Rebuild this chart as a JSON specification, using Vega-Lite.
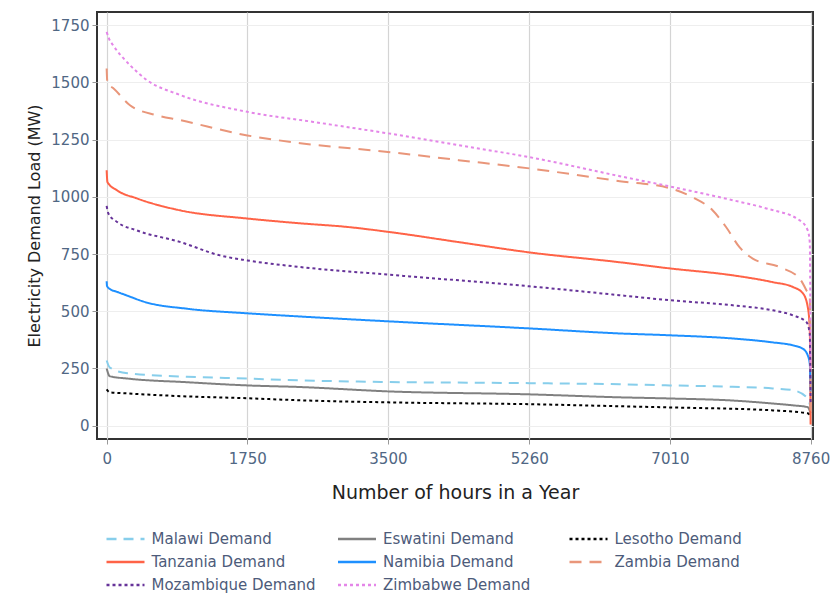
{
  "$schema": "https://vega.github.io/schema/vega-lite/v6.json",
  "autosize": {"type": "none"},
  "padding": {"left": 97, "top": 12, "right": 20, "bottom": 156},
  "width": 716,
  "height": 427,
  "background": "white",
  "config": {
    "font": "DejaVu Sans",
    "view": {"stroke": "#333333", "strokeWidth": 2},
    "axis": {"labelFont": "DejaVu Sans", "titleFont": "DejaVu Sans"},
    "legend": {"labelFont": "DejaVu Sans"}
  },
  "data": {"values": [
    {"c":"Malawi Demand","h":0,"v":285},{"c":"Malawi Demand","h":40,"v":254},{"c":"Malawi Demand","h":260,"v":229},{"c":"Malawi Demand","h":1000,"v":214},{"c":"Malawi Demand","h":1750,"v":206},{"c":"Malawi Demand","h":2410,"v":198},{"c":"Malawi Demand","h":3500,"v":191},{"c":"Malawi Demand","h":5260,"v":186},{"c":"Malawi Demand","h":6385,"v":181},{"c":"Malawi Demand","h":7010,"v":176},{"c":"Malawi Demand","h":7790,"v":170},{"c":"Malawi Demand","h":8290,"v":163},{"c":"Malawi Demand","h":8540,"v":155},{"c":"Malawi Demand","h":8725,"v":119},{"c":"Malawi Demand","h":8760,"v":80},
    {"c":"Eswatini Demand","h":0,"v":250},{"c":"Eswatini Demand","h":40,"v":216},{"c":"Eswatini Demand","h":260,"v":206},{"c":"Eswatini Demand","h":1000,"v":190},{"c":"Eswatini Demand","h":1750,"v":176},{"c":"Eswatini Demand","h":2410,"v":169},{"c":"Eswatini Demand","h":3500,"v":150},{"c":"Eswatini Demand","h":5260,"v":137},{"c":"Eswatini Demand","h":6385,"v":124},{"c":"Eswatini Demand","h":7010,"v":119},{"c":"Eswatini Demand","h":7790,"v":110},{"c":"Eswatini Demand","h":8290,"v":97},{"c":"Eswatini Demand","h":8540,"v":89},{"c":"Eswatini Demand","h":8725,"v":81},{"c":"Eswatini Demand","h":8760,"v":55},
    {"c":"Lesotho Demand","h":0,"v":159},{"c":"Lesotho Demand","h":40,"v":146},{"c":"Lesotho Demand","h":260,"v":141},{"c":"Lesotho Demand","h":1000,"v":128},{"c":"Lesotho Demand","h":1750,"v":120},{"c":"Lesotho Demand","h":2410,"v":111},{"c":"Lesotho Demand","h":3500,"v":102},{"c":"Lesotho Demand","h":5260,"v":94},{"c":"Lesotho Demand","h":6385,"v":85},{"c":"Lesotho Demand","h":7010,"v":80},{"c":"Lesotho Demand","h":8290,"v":67},{"c":"Lesotho Demand","h":8725,"v":54},{"c":"Lesotho Demand","h":8760,"v":40},
    {"c":"Tanzania Demand","h":0,"v":1116},{"c":"Tanzania Demand","h":10,"v":1064},{"c":"Tanzania Demand","h":130,"v":1028},{"c":"Tanzania Demand","h":375,"v":993},{"c":"Tanzania Demand","h":910,"v":941},{"c":"Tanzania Demand","h":1750,"v":905},{"c":"Tanzania Demand","h":2410,"v":884},{"c":"Tanzania Demand","h":3000,"v":868},{"c":"Tanzania Demand","h":3500,"v":847},{"c":"Tanzania Demand","h":4380,"v":802},{"c":"Tanzania Demand","h":5260,"v":757},{"c":"Tanzania Demand","h":6385,"v":714},{"c":"Tanzania Demand","h":7010,"v":687},{"c":"Tanzania Demand","h":7790,"v":657},{"c":"Tanzania Demand","h":8290,"v":627},{"c":"Tanzania Demand","h":8540,"v":606},{"c":"Tanzania Demand","h":8665,"v":578},{"c":"Tanzania Demand","h":8725,"v":518},{"c":"Tanzania Demand","h":8750,"v":420},{"c":"Tanzania Demand","h":8760,"v":5},
    {"c":"Namibia Demand","h":0,"v":631},{"c":"Namibia Demand","h":5,"v":610},{"c":"Namibia Demand","h":40,"v":597},{"c":"Namibia Demand","h":120,"v":586},{"c":"Namibia Demand","h":250,"v":569},{"c":"Namibia Demand","h":480,"v":540},{"c":"Namibia Demand","h":1000,"v":511},{"c":"Namibia Demand","h":1750,"v":491},{"c":"Namibia Demand","h":2410,"v":477},{"c":"Namibia Demand","h":3500,"v":456},{"c":"Namibia Demand","h":5260,"v":425},{"c":"Namibia Demand","h":6385,"v":403},{"c":"Namibia Demand","h":7010,"v":395},{"c":"Namibia Demand","h":7790,"v":381},{"c":"Namibia Demand","h":8290,"v":364},{"c":"Namibia Demand","h":8540,"v":351},{"c":"Namibia Demand","h":8665,"v":336},{"c":"Namibia Demand","h":8725,"v":307},{"c":"Namibia Demand","h":8750,"v":270},{"c":"Namibia Demand","h":8760,"v":150},
    {"c":"Zambia Demand","h":0,"v":1560},{"c":"Zambia Demand","h":10,"v":1495},{"c":"Zambia Demand","h":80,"v":1475},{"c":"Zambia Demand","h":290,"v":1400},{"c":"Zambia Demand","h":625,"v":1356},{"c":"Zambia Demand","h":910,"v":1335},{"c":"Zambia Demand","h":1750,"v":1268},{"c":"Zambia Demand","h":2410,"v":1234},{"c":"Zambia Demand","h":3500,"v":1196},{"c":"Zambia Demand","h":4380,"v":1160},{"c":"Zambia Demand","h":5260,"v":1124},{"c":"Zambia Demand","h":6385,"v":1068},{"c":"Zambia Demand","h":7010,"v":1037},{"c":"Zambia Demand","h":7290,"v":998},{"c":"Zambia Demand","h":7540,"v":941},{"c":"Zambia Demand","h":7710,"v":867},{"c":"Zambia Demand","h":7875,"v":780},{"c":"Zambia Demand","h":8040,"v":730},{"c":"Zambia Demand","h":8375,"v":693},{"c":"Zambia Demand","h":8625,"v":642},{"c":"Zambia Demand","h":8710,"v":590},{"c":"Zambia Demand","h":8750,"v":560},{"c":"Zambia Demand","h":8760,"v":50},
    {"c":"Mozambique Demand","h":0,"v":960},{"c":"Mozambique Demand","h":20,"v":928},{"c":"Mozambique Demand","h":130,"v":890},{"c":"Mozambique Demand","h":375,"v":853},{"c":"Mozambique Demand","h":910,"v":803},{"c":"Mozambique Demand","h":1410,"v":744},{"c":"Mozambique Demand","h":1750,"v":722},{"c":"Mozambique Demand","h":2410,"v":693},{"c":"Mozambique Demand","h":3500,"v":660},{"c":"Mozambique Demand","h":5260,"v":609},{"c":"Mozambique Demand","h":6385,"v":570},{"c":"Mozambique Demand","h":7010,"v":548},{"c":"Mozambique Demand","h":7790,"v":526},{"c":"Mozambique Demand","h":8290,"v":504},{"c":"Mozambique Demand","h":8540,"v":482},{"c":"Mozambique Demand","h":8710,"v":452},{"c":"Mozambique Demand","h":8750,"v":400},{"c":"Mozambique Demand","h":8760,"v":100},
    {"c":"Zimbabwe Demand","h":0,"v":1720},{"c":"Zimbabwe Demand","h":30,"v":1690},{"c":"Zimbabwe Demand","h":80,"v":1662},{"c":"Zimbabwe Demand","h":290,"v":1575},{"c":"Zimbabwe Demand","h":500,"v":1510},{"c":"Zimbabwe Demand","h":910,"v":1445},{"c":"Zimbabwe Demand","h":1750,"v":1371},{"c":"Zimbabwe Demand","h":2570,"v":1327},{"c":"Zimbabwe Demand","h":3500,"v":1277},{"c":"Zimbabwe Demand","h":4380,"v":1225},{"c":"Zimbabwe Demand","h":5260,"v":1173},{"c":"Zimbabwe Demand","h":6385,"v":1090},{"c":"Zimbabwe Demand","h":7010,"v":1045},{"c":"Zimbabwe Demand","h":7790,"v":985},{"c":"Zimbabwe Demand","h":8210,"v":949},{"c":"Zimbabwe Demand","h":8625,"v":897},{"c":"Zimbabwe Demand","h":8725,"v":853},{"c":"Zimbabwe Demand","h":8750,"v":800},{"c":"Zimbabwe Demand","h":8760,"v":250}
  ]},
  "mark": {"type": "line", "strokeWidth": 2, "interpolate": "monotone", "clip": true},
  "encoding": {
    "x": {
      "field": "h", "type": "quantitative",
      "scale": {"domain": [-120, 8790], "nice": false, "zero": false},
      "axis": {
        "values": [0, 1750, 3500, 5260, 7010, 8760], "format": "d",
        "title": "Number of hours in a Year",
        "titleFontSize": 19, "titleFontWeight": "normal", "titleColor": "#222222", "titlePadding": 17,
        "labelFontSize": 15, "labelColor": "#506784", "labelPadding": 7,
        "gridColor": "#d4d4d4", "gridWidth": 1.2,
        "domain": false, "tickColor": "#999999", "tickSize": 5
      }
    },
    "y": {
      "field": "v", "type": "quantitative",
      "scale": {"domain": [-58, 1807], "nice": false, "zero": false},
      "axis": {
        "values": [0, 250, 500, 750, 1000, 1250, 1500, 1750], "format": "d",
        "title": "Electricity Demand Load (MW)",
        "titleFontSize": 16, "titleFontWeight": "normal", "titleColor": "#222222", "titlePadding": 8,
        "labelFontSize": 15, "labelColor": "#506784", "labelPadding": 3,
        "gridColor": "#eeeeee",
        "domain": false, "tickColor": "#999999", "tickSize": 5
      }
    },
    "color": {
      "field": "c", "type": "nominal",
      "scale": {
        "domain": ["Malawi Demand","Eswatini Demand","Lesotho Demand","Tanzania Demand","Namibia Demand","Zambia Demand","Mozambique Demand","Zimbabwe Demand"],
        "range": ["#87ceeb","#808080","#000000","#ff6347","#1e90ff","#e9967a","#663399","#e486e8"]
      },
      "legend": {
        "title": null, "orient": "none", "legendX": 17.5, "legendY": 516,
        "direction": "horizontal", "columns": 3, "columnPadding": 16.5, "rowPadding": 4, "gridAlign": "all",
        "symbolType": "M-2,0H2", "symbolSize": 361, "symbolStrokeWidth": 2.5, "symbolOffset": 0,
        "labelFontSize": 15, "labelColor": "#4d5b7a", "labelOffset": 15, "labelLimit": 300
      }
    },
    "strokeDash": {
      "field": "c", "type": "nominal",
      "scale": {
        "domain": ["Malawi Demand","Eswatini Demand","Lesotho Demand","Tanzania Demand","Namibia Demand","Zambia Demand","Mozambique Demand","Zimbabwe Demand"],
        "range": [[10,7],[1,0],[3,3],[1,0],[1,0],[12,8],[3,3],[3,3]]
      },
      "legend": {
        "title": null, "orient": "none", "legendX": 17.5, "legendY": 516,
        "direction": "horizontal", "columns": 3, "columnPadding": 16.5, "rowPadding": 4, "gridAlign": "all",
        "symbolType": "M-2,0H2", "symbolSize": 361, "symbolStrokeWidth": 2.5,
        "labelFontSize": 15, "labelColor": "#4d5b7a", "labelOffset": 15, "labelLimit": 300
      }
    }
  }
}
